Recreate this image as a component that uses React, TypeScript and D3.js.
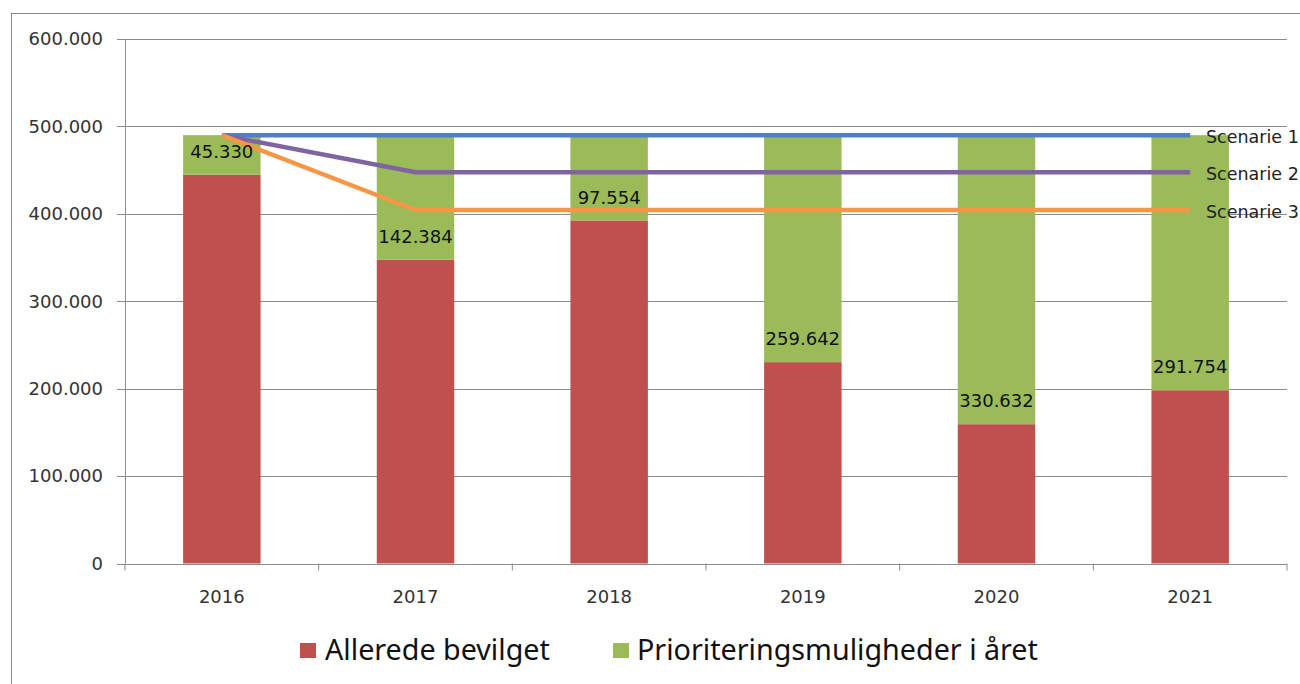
import React from "react";
import * as d3 from "d3";

const years = ["2016", "2017", "2018", "2019", "2020", "2021"];
const alleredeBevilget = [444670, 347616, 392446, 230358, 159368, 198246];
const prioriteringsmuligheder = [45330, 142384, 97554, 259642, 330632, 291754];
const scenarie1 = [490000, 490000, 490000, 490000, 490000, 490000];
const scenarie2 = [490000, 447500, 447500, 447500, 447500, 447500];
const scenarie3 = [490000, 404400, 404400, 404400, 404400, 404400];
const yTicks = [0, 100000, 200000, 300000, 400000, 500000, 600000];
const scenarioNames = ["Scenarie 1", "Scenarie 2", "Scenarie 3"];
const legendLabels = ["Allerede bevilget", "Prioriteringsmuligheder i året"];

const W = 1300;
const H = 684;
const plot = { left: 125, right: 1287, top: 39, bottom: 563.5 };
const RED = "#C0504D";
const GREEN = "#9BBB59";
const lineColors = ["#4F81BD", "#8064A2", "#F79646"];
const GRID = "#8c8c8c";
const FONT = "'DejaVu Sans', Verdana, sans-serif";

const fmt = (v: number) => d3.format(",")(v).replace(/,/g, ".");

export default function App() {
  const x = d3.scaleBand<string>().domain(years).range([plot.left, plot.right]).paddingInner(0).paddingOuter(0);
  const y = d3.scaleLinear().domain([0, 600000]).range([plot.bottom, plot.top]);
  const bw = x.bandwidth() * 0.4;
  const cx = (yr: string) => (x(yr) as number) + x.bandwidth() / 2;
  const line = d3
    .line<number>()
    .x((_, i) => cx(years[i]))
    .y((d) => y(d));
  const scenarios = [scenarie1, scenarie2, scenarie3];

  return (
    <svg width={W} height={H} style={{ position: "absolute", left: 0, top: 0, background: "#fff" }}>
      <rect x={11.5} y={13.5} width={1320} height={700} fill="#fff" stroke="#8a8a8a" strokeWidth={1} />
      {/* gridlines */}
      {yTicks.map((t) => (
        <g key={t}>
          {t > 0 && (
            <line x1={plot.left} x2={plot.right} y1={Math.round(y(t)) + 0.5} y2={Math.round(y(t)) + 0.5} stroke={GRID} strokeWidth={1} />
          )}
          <line x1={plot.left - 8} x2={plot.left} y1={Math.round(y(t)) + 0.5} y2={Math.round(y(t)) + 0.5} stroke={GRID} />
          <text x={103} y={y(t)} dy="0.35em" textAnchor="end" fontFamily={FONT} fontSize={18} fill="#333">
            {t === 0 ? "0" : fmt(t)}
          </text>
        </g>
      ))}
      {/* bars */}
      {years.map((yr, i) => {
        const x0 = cx(yr) - bw / 2;
        const redTop = y(alleredeBevilget[i]);
        const total = alleredeBevilget[i] + prioriteringsmuligheder[i];
        const greenTop = y(total);
        return (
          <g key={yr}>
            <rect x={x0} y={redTop} width={bw} height={y(0) - redTop} fill={RED} />
            <rect x={x0} y={greenTop} width={bw} height={redTop - greenTop} fill={GREEN} />
          </g>
        );
      })}
      {/* axes */}
      <line x1={plot.left + 0.5} x2={plot.left + 0.5} y1={plot.top} y2={plot.bottom} stroke={GRID} />
      <line x1={plot.left} x2={plot.right} y1={Math.round(y(0)) + 0.5} y2={Math.round(y(0)) + 0.5} stroke={GRID} />
      {years.map((yr) => (
        <line key={"t" + yr} x1={(x(yr) as number) + x.bandwidth()} x2={(x(yr) as number) + x.bandwidth()} y1={y(0)} y2={y(0) + 7} stroke={GRID} />
      ))}
      <line x1={plot.left} x2={plot.left} y1={y(0)} y2={y(0) + 7} stroke={GRID} />
      {years.map((yr) => (
        <text key={"l" + yr} x={cx(yr)} y={597} dy="0.35em" textAnchor="middle" fontFamily={FONT} fontSize={18} fill="#333">
          {yr}
        </text>
      ))}
      {/* scenario lines */}
      {scenarios.map((s, k) => (
        <path key={k} d={line(s) as string} fill="none" stroke={lineColors[k]} strokeWidth={4.5} strokeLinejoin="round" />
      ))}
      {/* data labels */}
      {years.map((yr, i) => (
        <text key={"d" + yr} x={cx(yr)} y={y(alleredeBevilget[i]) - 23} dy="0.35em" textAnchor="middle" fontFamily={FONT} fontSize={18} fill="#111">
          {fmt(prioriteringsmuligheder[i])}
        </text>
      ))}
      {/* scenario labels */}
      {scenarios.map((s, k) => (
        <text key={"s" + k} x={1206} y={y(s[s.length - 1]) + 2} dy="0.35em" fontFamily={FONT} fontSize={17.5} fill="#222">
          {scenarioNames[k]}
        </text>
      ))}
      {/* legend */}
      <rect x={300} y={643} width={16} height={15} fill={RED} />
      <text x={325} y={660} fontFamily="'Noto Sans', sans-serif" fontSize={28.7} fill="#111">
        {legendLabels[0]}
      </text>
      <rect x={613} y={643} width={16} height={15} fill={GREEN} />
      <text x={637} y={660} fontFamily="'Noto Sans', sans-serif" fontSize={28.7} fill="#111">
        {legendLabels[1]}
      </text>
    </svg>
  );
}
